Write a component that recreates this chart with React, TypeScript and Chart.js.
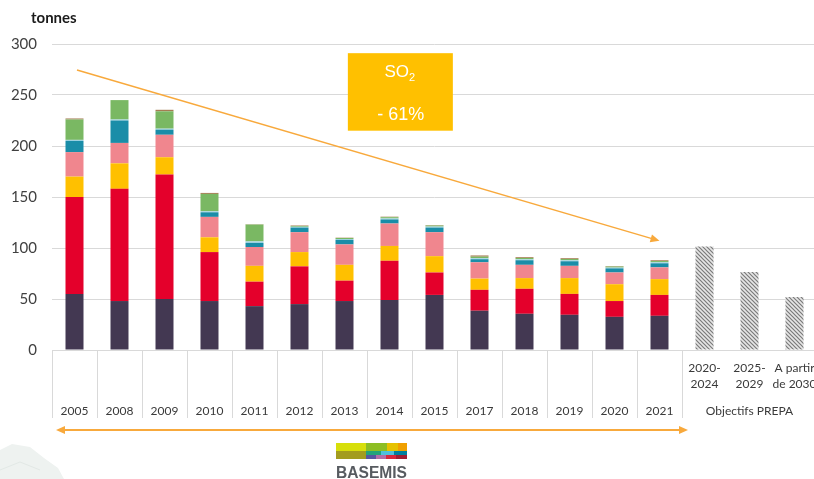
import React, { useEffect, useRef } from "react";
import { Chart, registerables } from "chart.js";

Chart.register(...registerables);

// ---------- data ----------
const yearLabels = ["2005", "2008", "2009", "2010", "2011", "2012", "2013", "2014", "2015", "2017", "2018", "2019", "2020", "2021"];
const prepaLabels: string[][] = [["2020-", "2024"], ["2025-", "2029"], ["A partir", "de 2030"]];
const groupLabel = "Objectifs PREPA";
const yTicks = [0, 50, 100, 150, 200, 250, 300];

const seriesDark = [55, 48, 50, 48, 43, 45, 48, 49, 54, 38.5, 35.5, 34.5, 32.5, 33.5];
const seriesRed = [95, 110, 122, 48, 24, 37, 20, 38.5, 22, 20.5, 24.5, 20.5, 15.5, 20.5];
const seriesYellow = [20, 25, 17, 14.5, 15.5, 14, 15.5, 14.5, 16, 11, 10.5, 15.5, 16.5, 15.5];
const seriesPink = [24, 20, 22, 20, 18.5, 19.5, 20, 22, 23.5, 16, 13, 12, 11.5, 11.5];
const seriesTeal = [11, 22, 5, 4.5, 4, 4.5, 4.5, 4, 4.5, 3, 4.5, 4.5, 4, 4];
const seriesLightBlue = [1, 1, 1, 1, 1.5, 0.8, 0.8, 1, 1, 1, 1, 1, 0.8, 1];
const seriesGreen = [20, 19, 17, 17, 16.5, 0.8, 1, 1.2, 1, 1.5, 1.2, 1.2, 1, 1.2];
const seriesBrown = [1, 0, 1.5, 1, 0.3, 0.5, 0.3, 0.5, 0.5, 1.2, 0.8, 0.8, 0.5, 0.8];
const objectives = [101.5, 76.5, 52];

const trendStart = 274.5; // value at 2005 for the trend arrow
const trendEnd = 107; // value at 2021 for the trend arrow
const reductionText = "- 61%";

const categories = [...yearLabels, ...prepaLabels.map((l) => l.join(" "))];
const padYears = (arr: number[]) => [...arr, null, null, null];
const padObjectives = [...yearLabels.map(() => null), ...objectives];

function makeHatch(): CanvasPattern | string {
  const c = document.createElement("canvas");
  c.width = 4;
  c.height = 4;
  const g = c.getContext("2d");
  if (!g) return "#aaa";
  g.fillStyle = "#e6e6e6";
  g.fillRect(0, 0, 4, 4);
  g.strokeStyle = "#7a7a7a";
  g.lineWidth = 1.2;
  g.beginPath();
  g.moveTo(-1, -1);
  g.lineTo(5, 5);
  g.moveTo(-1, 3);
  g.lineTo(1, 5);
  g.moveTo(3, -1);
  g.lineTo(5, 1);
  g.stroke();
  const p = g.createPattern(c, "repeat");
  return p || "#aaa";
}

function arrowHead(ctx: CanvasRenderingContext2D, x1: number, y1: number, x2: number, y2: number, len: number, half: number) {
  const a = Math.atan2(y2 - y1, x2 - x1);
  ctx.beginPath();
  ctx.moveTo(x2, y2);
  ctx.lineTo(x2 - len * Math.cos(a) + half * Math.sin(a), y2 - len * Math.sin(a) - half * Math.cos(a));
  ctx.lineTo(x2 - len * Math.cos(a) - half * Math.sin(a), y2 - len * Math.sin(a) + half * Math.cos(a));
  ctx.closePath();
  ctx.fill();
}

const annotations = {
  id: "annotations",
  afterDraw(chart: any) {
    const { ctx } = chart;
    const xs = chart.scales.x;
    const ys = chart.scales.y;
    const base = ys.getPixelForValue(0);
    ctx.save();

    // faint map shape bottom-left
    ctx.fillStyle = "#eef2f0";
    ctx.beginPath();
    ctx.moveTo(0, 450);
    ctx.lineTo(12, 444);
    ctx.lineTo(30, 447);
    ctx.lineTo(44, 458);
    ctx.lineTo(58, 468);
    ctx.lineTo(64, 479);
    ctx.lineTo(0, 479);
    ctx.closePath();
    ctx.fill();
    ctx.strokeStyle = "#e2e8e5";
    ctx.lineWidth = 1;
    ctx.beginPath();
    ctx.moveTo(0, 470);
    ctx.lineTo(20, 462);
    ctx.lineTo(40, 470);
    ctx.stroke();

    // "tonnes"
    ctx.fillStyle = "#1a1a1a";
    ctx.font = "bold 15px Lato";
    ctx.textAlign = "left";
    ctx.textBaseline = "middle";
    ctx.fillText("tonnes", 31, 18);

    // category separators
    ctx.strokeStyle = "#d9d9d9";
    ctx.lineWidth = 1;
    for (let i = 0; i <= yearLabels.length; i++) {
      const bx = Math.round(xs.getPixelForValue(i - 0.5)) + 0.5;
      ctx.beginPath();
      ctx.moveTo(bx, base);
      ctx.lineTo(bx, base + 68);
      ctx.stroke();
    }

    // x labels
    ctx.fillStyle = "#3a3a3a";
    ctx.font = "12px Lato";
    ctx.textAlign = "center";
    ctx.textBaseline = "middle";
    yearLabels.forEach((l, i) => {
      ctx.fillText(l, xs.getPixelForValue(i), base + 61);
    });
    prepaLabels.forEach((lines, j) => {
      const cx = xs.getPixelForValue(yearLabels.length + j);
      lines.forEach((t, k) => ctx.fillText(t, cx, base + 18 + k * 16));
    });
    ctx.fillText(groupLabel, xs.getPixelForValue(yearLabels.length + 1), base + 61);

    // horizontal double arrow
    const orange = "#f8a93c";
    ctx.strokeStyle = orange;
    ctx.fillStyle = orange;
    ctx.lineWidth = 2;
    const hy = base + 80;
    const hx1 = xs.getPixelForValue(-0.5) + 4;
    const hx2 = xs.getPixelForValue(yearLabels.length - 0.5) + 6;
    ctx.beginPath();
    ctx.moveTo(hx1 + 6, hy);
    ctx.lineTo(hx2 - 6, hy);
    ctx.stroke();
    arrowHead(ctx, hx2 - 10, hy, hx2, hy, 9, 4);
    arrowHead(ctx, hx1 + 10, hy, hx1, hy, 9, 4);

    // diagonal trend arrow
    const dx1 = xs.getPixelForValue(0) + 2.5;
    const dy1 = ys.getPixelForValue(trendStart);
    const dx2 = xs.getPixelForValue(yearLabels.length - 1);
    const dy2 = ys.getPixelForValue(trendEnd);
    ctx.lineWidth = 1.5;
    ctx.beginPath();
    ctx.moveTo(dx1, dy1);
    ctx.lineTo(dx2 - 5, dy2 - 1.5);
    ctx.stroke();
    arrowHead(ctx, dx1, dy1, dx2, dy2, 9, 4);

    // SO2 box
    const bcx = xs.getPixelForValue(7.23);
    const bTop = ys.getPixelForValue(291);
    const bBot = ys.getPixelForValue(215);
    ctx.fillStyle = "#ffc000";
    ctx.fillRect(bcx - 52, bTop, 105, bBot - bTop);
    ctx.fillStyle = "#ffffff";
    ctx.font = "17px 'Liberation Sans'";
    ctx.textAlign = "left";
    ctx.textBaseline = "alphabetic";
    const soW = ctx.measureText("SO").width;
    ctx.font = "11px 'Liberation Sans'";
    const subW = ctx.measureText("2").width;
    const sx = bcx - (soW + subW) / 2;
    ctx.font = "17px 'Liberation Sans'";
    ctx.fillText("SO", sx, bTop + 24);
    ctx.font = "11px 'Liberation Sans'";
    ctx.fillText("2", sx + soW, bTop + 28);
    ctx.font = "18px 'Liberation Sans'";
    ctx.textAlign = "center";
    ctx.fillText(reductionText, bcx + 1, bTop + 67);

    // BASEMIS logo
    const lx = 336;
    const ly = 443;
    const rects: [number, number, number, number, string][] = [
      [0, 0, 30, 8, "#d7df0a"],
      [0, 8, 30, 8, "#a39c1e"],
      [30, 0, 21, 8, "#8dbe22"],
      [51, 0, 11, 8, "#e6c200"],
      [62, 0, 9, 8, "#f0a000"],
      [30, 8, 15, 4, "#22a37a"],
      [45, 8, 13, 4, "#4fc0dc"],
      [58, 8, 13, 4, "#00809f"],
      [30, 12, 10, 4, "#5656a0"],
      [40, 12, 10, 4, "#b46ea7"],
      [50, 12, 10, 4, "#d7283c"],
      [60, 12, 11, 4, "#a01e32"],
    ];
    rects.forEach(([rx, ry, rw, rh, c]) => {
      ctx.fillStyle = c;
      ctx.fillRect(lx + rx, ly + ry, rw, rh);
    });
    ctx.fillStyle = "#575b60";
    ctx.font = "bold 16px 'Liberation Sans'";
    ctx.textAlign = "left";
    ctx.textBaseline = "alphabetic";
    ctx.fillText("BASEMIS", lx, 478, 71);

    ctx.restore();
  },
};

export default function App() {
  const ref = useRef<HTMLCanvasElement | null>(null);

  useEffect(() => {
    if (!ref.current) return;
    const hatch = makeHatch();
    const mk = (label: string, data: (number | null)[], color: any) => ({
      label,
      data,
      backgroundColor: color,
      borderWidth: 0,
      stack: "s",
      barPercentage: 0.4,
      categoryPercentage: 1,
    });
    const chart = new Chart(ref.current, {
      type: "bar",
      data: {
        labels: categories,
        datasets: [
          mk("s1", padYears(seriesDark), "#433852"),
          mk("s2", padYears(seriesRed), "#e4002b"),
          mk("s3", padYears(seriesYellow), "#ffc000"),
          mk("s4", padYears(seriesPink), "#f0868e"),
          mk("s5", padYears(seriesTeal), "#1a8da8"),
          mk("s6", padYears(seriesLightBlue), "#9fd3e2"),
          mk("s7", padYears(seriesGreen), "#7ab863"),
          mk("s8", padYears(seriesBrown), "#a57c52"),
          mk("PREPA", padObjectives, hatch),
        ] as any,
      },
      options: {
        animation: false,
        responsive: false,
        layout: { padding: { left: 0, right: 13, top: 44, bottom: 0 } },
        plugins: { legend: { display: false }, tooltip: { enabled: false } },
        scales: {
          x: {
            stacked: true,
            afterFit: (s: any) => {
              s.height = 129;
            },
            grid: { display: false },
            border: { display: true, color: "#d9d9d9", width: 1 },
            ticks: { display: false },
          },
          y: {
            stacked: true,
            min: yTicks[0],
            max: yTicks[yTicks.length - 1],
            afterFit: (s: any) => {
              s.width = 52;
            },
            afterBuildTicks: (s: any) => {
              s.ticks = yTicks.map((v) => ({ value: v }));
            },
            grid: { color: "#d9d9d9", drawTicks: false, lineWidth: 1 },
            border: { display: false },
            ticks: {
              padding: 15,
              color: "#404040",
              font: { family: "Lato", size: 15 },
            },
          },
        },
      },
      plugins: [annotations],
    });
    return () => chart.destroy();
  }, []);

  return (
    <div style={{ position: "fixed", left: 0, top: 0, width: 814, height: 479, overflow: "hidden", background: "#fff" }}>
      <canvas ref={ref} width={830} height={479} style={{ width: 830, height: 479, display: "block" }} />
    </div>
  );
}
